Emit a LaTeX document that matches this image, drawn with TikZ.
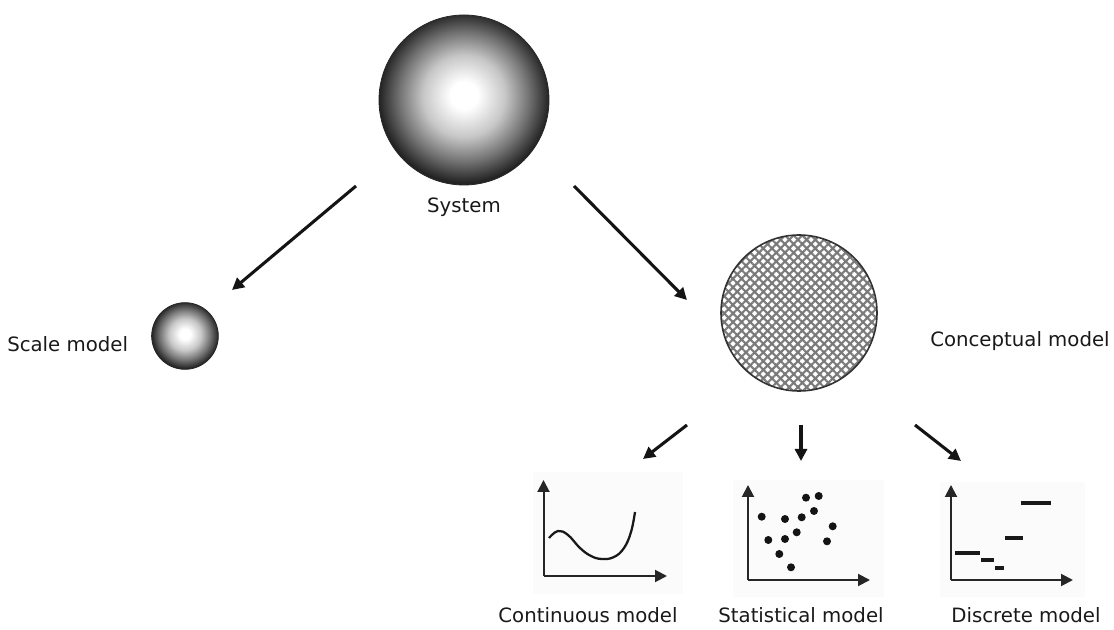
\documentclass[tikz,border=0pt]{standalone}
\usepackage{fontspec}
\setmainfont{DejaVu Sans}
\usetikzlibrary{arrows.meta,patterns.meta}

% soft sphere: broad light core fading to a dark rim
\pgfdeclareradialshading{orb}{\pgfpoint{0bp}{1.5bp}}{%
  color(0bp)=(white); color(4bp)=(white);
  color(12bp)=(black!22); color(19bp)=(black!55);
  color(25bp)=(black!86); color(50bp)=(black!86)}

\tikzset{
  lbl/.style={font=\fontsize{14.8}{17}\selectfont, text=black!90, inner sep=0pt, anchor=base},
  orbnode/.style={circle, inner sep=0pt, shading=orb, draw=black!85, line width=0.6pt},
  conn/.style={line width=2.3pt, black!92, -{Triangle[length=9pt,width=9pt]}},
  axis/.style={line width=1.5pt, black!85, -{Triangle[length=9pt,width=9pt]}},
  panel/.style={fill=black!1.5, draw=none},
  dot/.style={circle, fill=black!92, inner sep=0pt, minimum size=6pt},
  step bar/.style={line width=3pt, black!90},
  curve/.style={line width=1.7pt, black!90}
}

\begin{document}
\begin{tikzpicture}[x=0.75pt,y=-0.75pt]
\useasboundingbox[fill=white] (0,0) rectangle (1114,630);

% --- the system and its two models ---
\node[orbnode, minimum size=127.5pt] (sys) at (464,100) {};
\node[lbl] (syslbl) at (464,213) {System};

\node[orbnode, minimum size=50pt] (scale) at (185,336) {};
\node[lbl, anchor=base west] (scalelbl) at (7,352) {Scale model};

\node[circle, inner sep=0pt, minimum size=117pt, draw=black!80, line width=1.2pt,
      pattern={Hatch[angle=45,distance=4.6pt,line width=1.6pt]}, pattern color=black!52]
      (con) at (799,313) {};
\node[lbl, anchor=base west] (conlbl) at (930,347) {Conceptual model};

% --- connectors ---
\coordinate (a1s) at (356,186); \coordinate (a1e) at (232,290);
\coordinate (a2s) at (574,186); \coordinate (a2e) at (687,300);
\coordinate (b1s) at (687,425); \coordinate (b1e) at (643,459);
\coordinate (b2s) at (801,425); \coordinate (b2e) at (801,461);
\coordinate (b3s) at (915,425); \coordinate (b3e) at (961,461);
\draw[conn] (a1s) -- (a1e);
\draw[conn] (a2s) -- (a2e);
\draw[conn] (b1s) -- (b1e);
\draw[conn] (b2s) -- (b2e);
\draw[conn] (b3s) -- (b3e);

% --- continuous model ---
\fill[panel] (533,472) rectangle (683,594);
\coordinate (co) at (543.5,576);
\draw[axis] (co) -- (543.5,480);
\draw[axis] (co) -- (667,576);
\draw[curve] plot[smooth, tension=0.7] coordinates
  {(549,538) (558,531) (568,535) (580,548) (591,556) (602,559) (614,557) (624,548) (631,532) (635,512)};
\node[lbl] (contlbl) at (588,622) {Continuous model};

% --- statistical model ---
\fill[panel] (733,480) rectangle (884,597);
\coordinate (so) at (748,580);
\draw[axis] (so) -- (748,485);
\draw[axis] (so) -- (870,580);
\foreach \p in {(761.7,516.7),(768.3,540),(779.3,554),(785,519),(785,539),(791,567.3),
                (796.7,532.3),(801.7,517.3),(806,497.7),(814,511),(818.7,496),(832.7,526.3),(827,541.3)}
  \node[dot] at \p {};
\node[lbl] (statlbl) at (801,622) {Statistical model};

% --- discrete model ---
\fill[panel] (940,482) rectangle (1085,597);
\coordinate (do) at (951,580);
\draw[axis] (do) -- (951,485);
\draw[axis] (do) -- (1073,580);
\draw[step bar] (955,552.7) -- (980,552.7);
\draw[step bar] (980.7,560) -- (994,560);
\draw[step bar] (995,568.3) -- (1004,568.3);
\draw[step bar] (1005,538.3) -- (1022.7,538.3);
\draw[step bar] (1020.7,502.7) -- (1051,502.7);
\node[lbl] (disclbl) at (1026,622) {Discrete model};
\end{tikzpicture}
\end{document}
